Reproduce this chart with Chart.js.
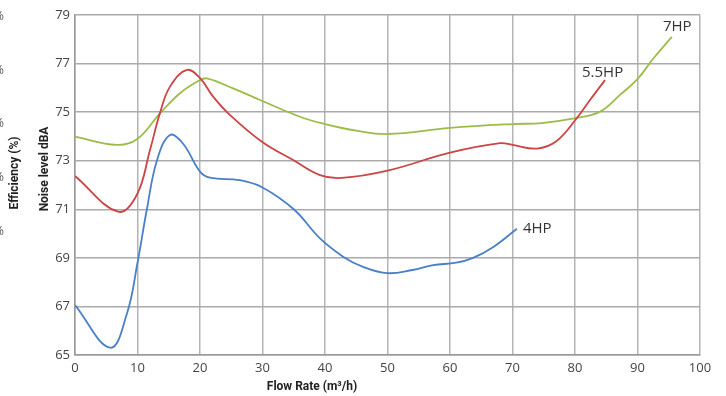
<!DOCTYPE html>
<html>
<head>
<meta charset="utf-8">
<script src="https://cdn.jsdelivr.net/npm/chart.js@4/dist/chart.umd.min.js"></script>
<style>
  html, body { margin: 0; padding: 0; background: #fff; }
  #wrap { width: 726px; height: 396px; position: relative; }
</style>
</head>
<body>
<div id="wrap"><canvas id="chart"></canvas></div>
<script>
// flow rate (m3/h) and noise level (dBA)
const flow4 = [0, 5.6, 8.3, 10, 11.5, 13.1, 15.2, 17.3, 20, 21.6, 26.4, 30, 35, 39.2, 42.9, 46, 50, 54, 57.3, 61, 63.7, 67, 70.7];
const noise4 = [67.06, 65.3, 66.7, 68.8, 71.0, 73.0, 74.06, 73.7, 72.55, 72.3, 72.2, 71.9, 71.0, 69.8, 69.05, 68.64, 68.37, 68.5, 68.7, 68.8, 69.0, 69.46, 70.2];

const flow55 = [0, 6.9, 9.9, 12, 13.6, 15.2, 17.9, 20, 22.1, 24.8, 29.9, 34.9, 39.2, 42.7, 50, 60, 68, 70, 73.9, 77, 80.3, 82.4, 84.8];
const noise55 = [72.37, 70.9, 71.6, 73.44, 74.97, 76.05, 76.74, 76.4, 75.64, 74.88, 73.78, 73.03, 72.41, 72.29, 72.59, 73.33, 73.72, 73.65, 73.5, 73.8, 74.76, 75.5, 76.32];

const flow7 = [0, 6.7, 9.9, 13.6, 16.8, 20, 21.1, 25.3, 29.6, 36, 40, 45, 50, 60, 70, 74.7, 80.3, 84, 87.2, 90.1, 92.5, 95.5];
const noise7 = [73.99, 73.65, 73.88, 74.95, 75.78, 76.32, 76.39, 75.98, 75.5, 74.81, 74.51, 74.24, 74.1, 74.35, 74.51, 74.55, 74.76, 75.02, 75.71, 76.39, 77.2, 78.1];

const seriesNames = ['4HP', '5.5HP', '7HP'];
const seriesColors = ['#4a80c6', '#cc4444', '#9bbd48'];
// label offset from each line's last point
const labelOffsets = [[6, 0], [-23, -7], [-9, -10]];

const pts = (xs, ys) => xs.map((x, i) => ({x: x, y: ys[i]}));

const textFont = '"Open Sans", sans-serif';
const titleFont = 'Roboto, sans-serif';

const overlay = {
    id: 'overlay',
    afterDraw(chart) {
        const ctx = chart.ctx;
        ctx.save();
        // series names at the line ends
        ctx.font = '15px ' + textFont;
        ctx.fillStyle = '#333';
        ctx.textBaseline = 'middle';
        ctx.textAlign = 'left';
        chart.data.datasets.forEach((ds, i) => {
            const meta = chart.getDatasetMeta(i);
            const last = meta.data[meta.data.length - 1];
            ctx.fillText(seriesNames[i], last.x + labelOffsets[i][0], last.y + labelOffsets[i][1]);
        });
        // axis titles
        ctx.font = 'bold 12px ' + titleFont;
        ctx.fillStyle = '#222';
        ctx.textAlign = 'center';
        ctx.fillText('Flow Rate (m³/h)', 312, 387);
        ctx.translate(45, 169);
        ctx.rotate(-Math.PI / 2);
        ctx.fillText('Noise level dBA', 0, 0);
        ctx.restore();
        ctx.save();
        ctx.font = 'bold 12px ' + titleFont;
        ctx.fillStyle = '#222';
        ctx.textAlign = 'center';
        ctx.textBaseline = 'middle';
        ctx.translate(15, 173);
        ctx.rotate(-Math.PI / 2);
        ctx.fillText('Efficiency (%)', 0, 0);
        ctx.restore();
        // cut-off efficiency tick labels at the far left
        ctx.save();
        ctx.font = '12px ' + textFont;
        ctx.fillStyle = '#555';
        ctx.textAlign = 'right';
        ctx.textBaseline = 'middle';
        [17, 71, 124, 178, 232].forEach(y => ctx.fillText('%', 4, y));
        ctx.restore();
    }
};

new Chart(document.getElementById('chart'), {
    type: 'line',
    data: {
        datasets: [
            {data: pts(flow4, noise4)},
            {data: pts(flow55, noise55)},
            {data: pts(flow7, noise7)}
        ].map((d, i) => Object.assign(d, {
            label: seriesNames[i],
            borderColor: seriesColors[i],
            borderWidth: 1.8,
            pointRadius: 0,
            fill: false,
            tension: 0.4
        }))
    },
    options: {
        responsive: true,
        maintainAspectRatio: false,
        animation: false,
        layout: {padding: {top: 15, right: 26, left: 0, bottom: 0}},
        plugins: {legend: {display: false}, tooltip: {enabled: false}},
        scales: {
            x: {
                type: 'linear',
                min: 0, max: 100,
                ticks: {stepSize: 10, color: '#444', padding: 5, font: {family: textFont, size: 13}},
                grid: {color: '#b4b4b4', lineWidth: 1.5, drawTicks: false},
                border: {color: '#999', width: 1.5},
                afterFit: s => { s.height = 41; }
            },
            y: {
                min: 65, max: 79,
                ticks: {stepSize: 2, color: '#444', padding: 5, font: {family: textFont, size: 13}},
                grid: {color: '#aaaaaa', lineWidth: 1.5, drawTicks: false},
                border: {color: '#999', width: 1.5},
                afterFit: s => { s.width = 75; }
            }
        }
    },
    plugins: [overlay]
});
</script>
</body>
</html>
